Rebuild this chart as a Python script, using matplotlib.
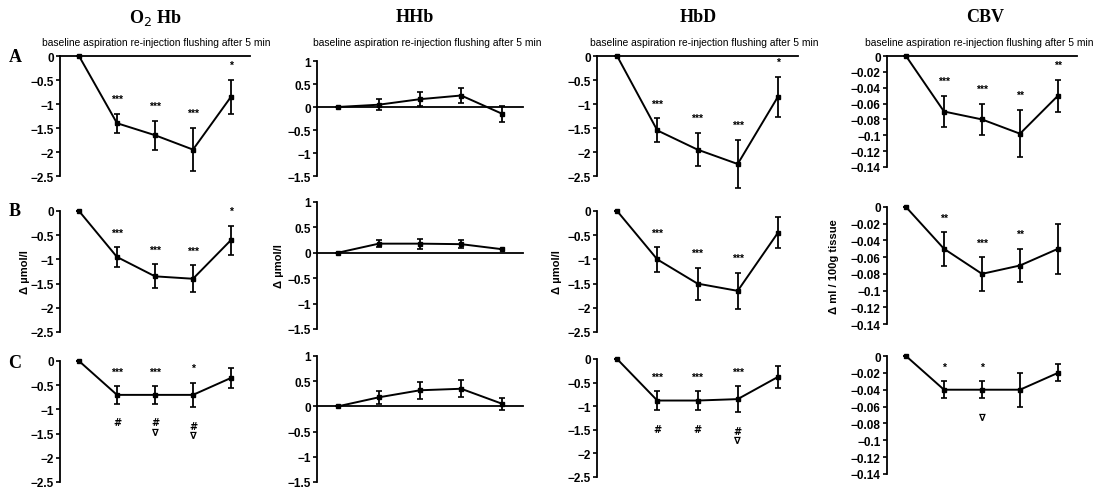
import matplotlib
matplotlib.use("Agg")
import matplotlib.pyplot as plt
import numpy as np

# ---------------- data ----------------
columns = ["O$_2$ Hb", "HHb", "HbD", "CBV"]
rows = ["A", "B", "C"]
phases = "baseline aspiration re-injection flushing after 5 min"

o2hb_mean = [[0, -1.40, -1.65, -1.95, -0.85],
             [0, -0.95, -1.35, -1.40, -0.60],
             [0, -0.70, -0.70, -0.70, -0.35]]
o2hb_err = [[0, 0.20, 0.30, 0.45, 0.35],
            [0, 0.20, 0.25, 0.28, 0.30],
            [0, 0.18, 0.18, 0.25, 0.20]]
o2hb_sig = [["", "***", "***", "***", "*"],
            ["", "***", "***", "***", "*"],
            ["", "***", "***", "*", ""]]
o2hb_below = [["", "", "", "", ""],
              ["", "", "", "", ""],
              ["", "#", "#\n∇", "#\n∇", ""]]

hhb_mean = [[0, 0.05, 0.17, 0.25, -0.15],
            [0, 0.18, 0.18, 0.17, 0.07],
            [0, 0.18, 0.32, 0.35, 0.05]]
hhb_err = [[0, 0.12, 0.15, 0.16, 0.18],
           [0, 0.07, 0.10, 0.08, 0.00],
           [0, 0.13, 0.17, 0.17, 0.12]]
hhb_sig = [["", "", "", "", ""]] * 3
hhb_below = [["", "", "", "", ""]] * 3

hbd_mean = [[0, -1.55, -1.95, -2.25, -0.85],
            [0, -1.00, -1.50, -1.65, -0.45],
            [0, -0.88, -0.88, -0.85, -0.38]]
hbd_err = [[0, 0.25, 0.35, 0.50, 0.42],
           [0, 0.25, 0.33, 0.37, 0.32],
           [0, 0.20, 0.20, 0.27, 0.24]]
hbd_sig = [["", "***", "***", "***", "*"],
           ["", "***", "***", "***", ""],
           ["", "***", "***", "***", ""]]
hbd_below = [["", "", "", "", ""],
             ["", "", "", "", ""],
             ["", "#", "#", "#\n∇", ""]]

cbv_mean = [[0, -0.070, -0.080, -0.098, -0.050],
            [0, -0.050, -0.080, -0.070, -0.050],
            [0, -0.040, -0.040, -0.040, -0.020]]
cbv_err = [[0, 0.020, 0.020, 0.030, 0.020],
           [0, 0.020, 0.020, 0.020, 0.030],
           [0, 0.010, 0.010, 0.020, 0.010]]
cbv_sig = [["", "***", "***", "**", "**"],
           ["", "**", "***", "**", ""],
           ["", "*", "*", "", ""]]
cbv_below = [["", "", "", "", ""],
             ["", "", "", "", ""],
             ["", "", "∇", "", ""]]

o2hb_ticks = [0, -0.5, -1, -1.5, -2, -2.5]
hhb_ticks = [1, 0.5, 0, -0.5, -1, -1.5]
hbd_ticks = [0, -0.5, -1, -1.5, -2, -2.5]
cbv_ticks = [0, -0.02, -0.04, -0.06, -0.08, -0.1, -0.12, -0.14]

means = [o2hb_mean, hhb_mean, hbd_mean, cbv_mean]
errs = [o2hb_err, hhb_err, hbd_err, cbv_err]
sigs = [o2hb_sig, hhb_sig, hbd_sig, cbv_sig]
belows = [o2hb_below, hhb_below, hbd_below, cbv_below]
ticks = [o2hb_ticks, hhb_ticks, hbd_ticks, cbv_ticks]
ylabels = ["Δ µmol/l", "Δ µmol/l", "Δ µmol/l", "Δ ml / 100g tissue"]

# ---------------- layout (pixels) ----------------
W, H = 1117, 489
col_x = [(60, 190), (317, 206), (597, 201), (887, 190)]
row_y = [[(57, 177), (212, 333), (362, 483)],
         [(62, 177), (203, 330), (357, 483)],
         [(57, 177), (212, 333), (360, 478)],
         [(57, 168), (208, 325), (357, 475)]]
title_x = [155, 415, 698, 985]
sub_x = [42, 313, 590, 865]
ylab_x = [25, 279, 557, 834]

fig = plt.figure(figsize=(W / 100, H / 100), dpi=100)
fig.patch.set_facecolor("white")

SANS = "Liberation Sans"
SERIF = "Liberation Serif"
x = np.arange(5)

for c in range(4):
    left, width = col_x[c]
    for r in range(3):
        top, bot = row_y[c][r]
        ax = fig.add_axes([left / W, 1 - bot / H, width / W, (bot - top) / H])
        tk = ticks[c]
        ax.set_ylim(min(tk), max(tk))
        ax.set_xlim(-0.5, 4.5)
        for s in ["top", "right", "bottom"]:
            ax.spines[s].set_visible(False)
        ax.spines["left"].set_linewidth(1.3)
        ax.set_xticks([])
        ax.set_yticks(tk)
        ax.set_yticklabels([("%g" % t).replace("-", "−") for t in tk],
                           fontsize=8.5, fontfamily=SANS, fontweight="bold")
        ax.tick_params(axis="y", length=3, width=1.2, pad=1.5)
        if c == 1 or r == 0:
            ax.plot([-0.5, 4.5], [0, 0], color="black", lw=1.3,
                    clip_on=False, zorder=1)
        m = np.array(means[c][r])
        e = np.array(errs[c][r])
        ax.errorbar(x, m, yerr=e, color="black", lw=1.4, capsize=2.5,
                    capthick=1.2, elinewidth=1.3, marker="s", ms=2.5,
                    clip_on=False, zorder=3)
        for i in range(5):
            s = sigs[c][r][i]
            if s:
                ax.annotate(s, (x[i], m[i] + e[i]), xytext=(0, 7),
                            textcoords="offset points", ha="center",
                            va="bottom", fontsize=7.5, fontweight="bold",
                            fontfamily=SANS, annotation_clip=False)
            b = belows[c][r][i]
            if b:
                ax.annotate(b, (x[i], m[i] - e[i]), xytext=(0, -10),
                            textcoords="offset points", ha="center",
                            va="top", fontsize=7, fontweight="bold",
                            fontfamily=["DejaVu Sans"], linespacing=0.9,
                            annotation_clip=False)
    fig.text(title_x[c] / W, 1 - 18 / H, columns[c], ha="center", va="center",
             fontsize=13, fontweight="bold", fontfamily=SERIF)
    fig.text(sub_x[c] / W, 1 - 43 / H, phases, ha="left", va="center",
             fontsize=7.4, fontfamily=SANS)
    top, bot = row_y[c][1]
    fig.text(ylab_x[c] / W, 1 - (top + bot) / 2 / H, ylabels[c], rotation=90,
             ha="center", va="center", fontsize=8, fontweight="bold",
             fontfamily=SANS)

for r, lab in enumerate(rows):
    fig.text(15 / W, 1 - [57, 212, 363][r] / H, lab, ha="center",
             va="center", fontsize=13, fontweight="bold", fontfamily=SERIF)

fig.savefig("out.png", dpi=100, facecolor="white")
